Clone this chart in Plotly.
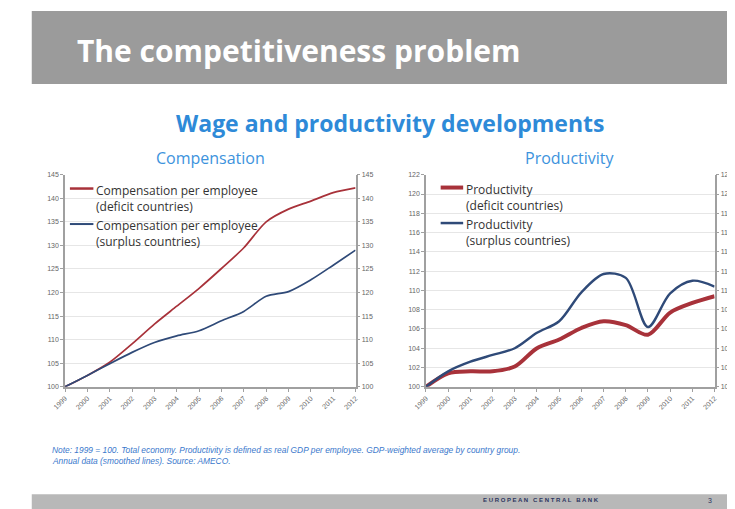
import plotly.graph_objects as go

years = list(range(1999, 2013))
year_labels = [str(y) for y in years]

comp_deficit = [100, 102.4, 105.2, 109.1, 113.3, 117.1, 120.9, 125.1, 129.5, 135.0, 137.7, 139.4, 141.2, 142.2]
comp_surplus = [100, 102.4, 104.9, 107.3, 109.4, 110.8, 111.9, 114.0, 116.0, 119.2, 120.2, 122.7, 125.8, 129.0]
prod_deficit = [100, 101.4, 101.6, 101.6, 102.1, 104.0, 104.9, 106.1, 106.8, 106.4, 105.4, 107.7, 108.7, 109.4]
prod_surplus = [100, 101.6, 102.6, 103.3, 104.0, 105.6, 106.8, 109.8, 111.7, 111.3, 106.2, 109.7, 111.0, 110.4]

comp_ticks = list(range(100, 146, 5))
prod_ticks = list(range(100, 123, 2))

comp_names = ["Compensation per employee", "(deficit countries)", "Compensation per employee", "(surplus countries)"]
prod_names = ["Productivity", "(deficit countries)", "Productivity", "(surplus countries)"]

RED = "#a8323a"
BLUE = "#2f4a78"
W, H = 735, 509
OFF = 8  # page body margin


def px(x):
    return (x - OFF) / W


def py(y):
    return 1 - (y - OFF) / H


fig = go.Figure()

# Left chart: compensation
fig.add_trace(go.Scatter(x=years, y=comp_deficit, mode="lines", line=dict(color=RED, width=1.7, shape="spline", smoothing=0.8),
                         name=comp_names[0] + " " + comp_names[1], showlegend=False, xaxis="x", yaxis="y"))
fig.add_trace(go.Scatter(x=years, y=comp_surplus, mode="lines", line=dict(color=BLUE, width=1.7, shape="spline", smoothing=0.8),
                         name=comp_names[2] + " " + comp_names[3], showlegend=False, xaxis="x", yaxis="y"))
fig.add_trace(go.Scatter(x=years, y=comp_surplus, mode="lines", line=dict(color="rgba(0,0,0,0)", width=0),
                         showlegend=False, hoverinfo="skip", xaxis="x", yaxis="y3"))

# Right chart: productivity
fig.add_trace(go.Scatter(x=years, y=prod_deficit, mode="lines", line=dict(color=RED, width=4, shape="spline", smoothing=0.9),
                         name=prod_names[0] + " " + prod_names[1], showlegend=False, xaxis="x2", yaxis="y2"))
fig.add_trace(go.Scatter(x=years, y=prod_surplus, mode="lines", line=dict(color=BLUE, width=2.4, shape="spline", smoothing=0.9),
                         name=prod_names[2] + " " + prod_names[3], showlegend=False, xaxis="x2", yaxis="y2"))
fig.add_trace(go.Scatter(x=years, y=prod_surplus, mode="lines", line=dict(color="rgba(0,0,0,0)", width=0),
                         showlegend=False, hoverinfo="skip", xaxis="x2", yaxis="y4"))

tickfont = dict(family="Liberation Sans", size=7, color="#666")
xcommon = dict(tickmode="array", tickvals=years, ticktext=year_labels, tickangle=-45, tickfont=tickfont,
               showgrid=False, zeroline=False, showline=True, linecolor="#a0a0a0", linewidth=1.5,
               ticks="outside", ticklen=3, tickcolor="#a0a0a0", range=[1999, 2012])
ycommon = dict(tickfont=tickfont, zeroline=False, showline=True, linecolor="#a0a0a0", linewidth=1.5,
               ticks="outside", ticklen=3, tickcolor="#a0a0a0")

y0, y1 = py(388), py(173)

fig.update_layout(
    width=W, height=H, margin=dict(l=0, r=0, t=0, b=0),
    paper_bgcolor="white", plot_bgcolor="white", showlegend=False,
    xaxis=dict(domain=[px(53), px(350)], anchor="y", **xcommon),
    yaxis=dict(domain=[y0, y1], anchor="x", range=[100, 145], tickvals=comp_ticks,
               showgrid=True, gridcolor="#e6e6e6", gridwidth=1, **ycommon),
    yaxis3=dict(overlaying="y", side="right", anchor="x", range=[100, 145], tickvals=comp_ticks,
                showgrid=False, **ycommon),
    xaxis2=dict(domain=[px(422), px(717)], anchor="y2", **xcommon),
    yaxis2=dict(domain=[y0, y1], anchor="x2", range=[100, 122], tickvals=prod_ticks,
                showgrid=True, gridcolor="#e6e6e6", gridwidth=1, **ycommon),
    yaxis4=dict(overlaying="y2", side="right", anchor="x2", range=[100, 122], tickvals=prod_ticks,
                showgrid=False, **ycommon),
)

shapes = [
    dict(type="rect", xref="paper", yref="paper", x0=px(19), x1=1.05, y0=py(81), y1=py(7),
         fillcolor="#9b9b9b", line=dict(width=0), layer="below"),
    dict(type="rect", xref="paper", yref="paper", x0=px(19), x1=1.05, y0=-0.05, y1=py(497),
         fillcolor="#b8b8b8", line=dict(width=0), layer="below"),
]

annotations = [
    dict(text="<b>The competitiveness problem</b>", x=px(63), y=py(47), xref="paper", yref="paper",
         xanchor="left", yanchor="middle", showarrow=False,
         font=dict(family="Open Sans", size=30, color="white")),
    dict(text="<b>Wage and productivity developments</b>", x=px(385), y=py(121), xref="paper", yref="paper",
         xanchor="center", yanchor="middle", showarrow=False,
         font=dict(family="Open Sans", size=23, color="#2e8ad8")),
    dict(text="Compensation", x=px(202), y=py(156), xref="paper", yref="paper",
         xanchor="center", yanchor="middle", showarrow=False,
         font=dict(family="Open Sans", size=16, color="#3d93dd")),
    dict(text="Productivity", x=px(569), y=py(156), xref="paper", yref="paper",
         xanchor="center", yanchor="middle", showarrow=False,
         font=dict(family="Open Sans", size=16, color="#3d93dd")),
    dict(text="<i>Note: 1999 = 100. Total economy. Productivity is defined as real GDP per employee. GDP-weighted average by country group.</i>",
         x=px(38), y=py(452), xref="paper", yref="paper", xanchor="left", yanchor="middle", showarrow=False,
         align="left", font=dict(family="Liberation Sans", size=8.4, color="#3a78cc")),
    dict(text="<i>Annual data (smoothed lines). Source: AMECO.</i>",
         x=px(38), y=py(463), xref="paper", yref="paper", xanchor="left", yanchor="middle", showarrow=False,
         align="left", font=dict(family="Liberation Sans", size=8.4, color="#3a78cc")),
    dict(text="<b>E U R O P E A N   C E N T R A L   B A N K</b>", x=px(540), y=py(503), xref="paper", yref="paper",
         xanchor="center", yanchor="middle", showarrow=False,
         font=dict(family="Liberation Sans", size=6, color="#2c3560")),
    dict(text="3", x=px(712), y=py(503), xref="paper", yref="paper",
         xanchor="center", yanchor="middle", showarrow=False,
         font=dict(family="Liberation Sans", size=7, color="#2c3560")),
]

# Manual legends (keys drawn as short lines with two-line text directly after them)
legend_font = dict(family="Open Sans", size=12, color="#333")
legend_specs = [
    (58, 82, 187, RED, 2.5, comp_names[0], comp_names[1]),
    (58, 82, 223, BLUE, 2.0, comp_names[2], comp_names[3]),
    (437, 460, 186, RED, 4.0, prod_names[0], prod_names[1]),
    (437, 460, 222, BLUE, 2.5, prod_names[2], prod_names[3]),
]
for xa, xb, yl, col, lw, t1, t2 in legend_specs:
    shapes.append(dict(type="line", xref="paper", yref="paper", x0=px(xa), x1=px(xb), y0=py(yl), y1=py(yl),
                       line=dict(color=col, width=lw)))
    annotations.append(dict(text=t1 + "<br>" + t2, x=px(xb + 1), y=py(yl - 9), xref="paper", yref="paper",
                            xanchor="left", yanchor="top", align="left", showarrow=False, font=legend_font))

fig.update_layout(shapes=shapes, annotations=annotations)

fig.write_html("out.html")
